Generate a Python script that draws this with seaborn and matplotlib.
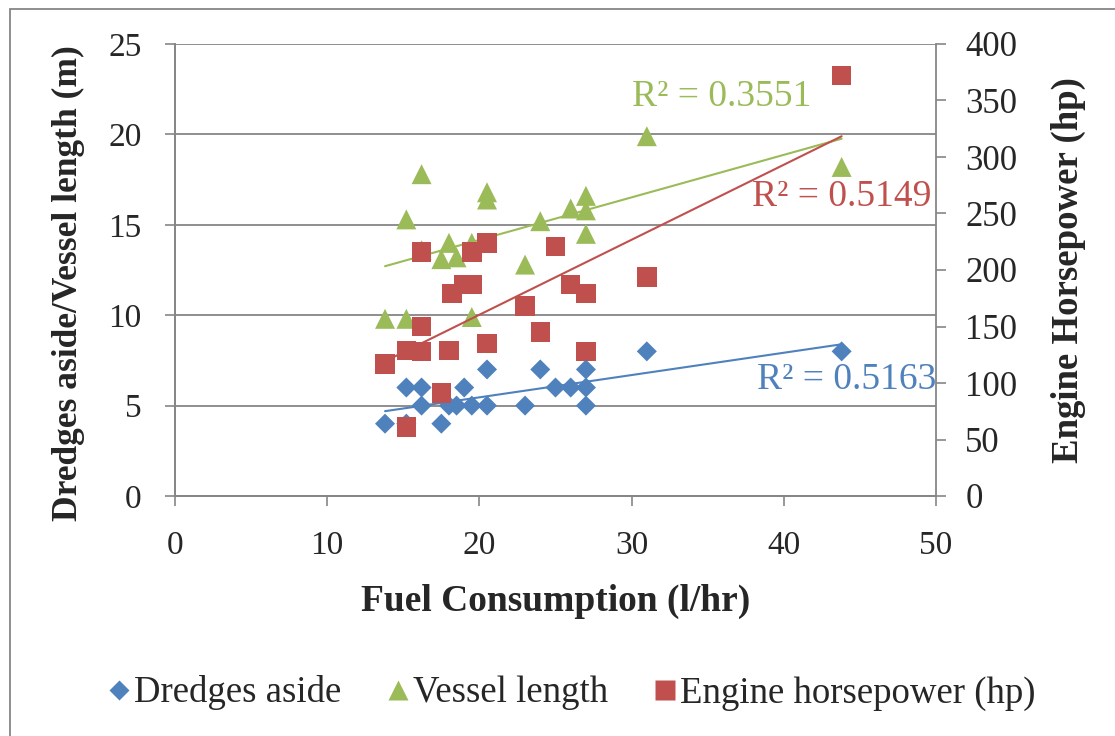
import numpy as np
import pandas as pd
import matplotlib
matplotlib.use("Agg")
import matplotlib.pyplot as plt
from matplotlib.lines import Line2D
from matplotlib.patches import Rectangle
import seaborn as sns

# ==================== data ====================
dredges_x = [13.8, 15.2, 15.2, 16.2, 16.2, 17.5, 18.0, 18.5, 19.0, 19.5, 20.5,
             20.5, 23.0, 24.0, 25.0, 26.0, 27.0, 27.0, 27.0, 31.0, 43.8]
dredges_y = [4, 6, 4, 6, 5, 4, 5, 5, 6, 5, 7, 5, 5, 7, 6, 6, 6, 7, 5, 8, 8]

vessel_x = [13.8, 15.2, 15.2, 16.2, 16.2, 17.5, 18.0, 18.5, 19.5, 19.5,
            20.5, 20.5, 23.0, 24.0, 26.0, 27.0, 27.0, 27.0, 31.0, 43.8]
vessel_y = [9.8, 15.3, 9.8, 17.8, 13.6, 13.1, 14.0, 13.2, 14.0, 9.9,
            16.8, 16.4, 12.8, 15.2, 15.9, 16.6, 15.8, 14.5, 19.9, 18.2]

hp_x = [13.8, 15.2, 15.2, 16.2, 16.2, 16.2, 17.5, 18.0, 18.2, 19.0, 19.5,
        19.5, 20.5, 20.5, 23.0, 24.0, 25.0, 26.0, 27.0, 27.0, 31.0, 43.8]
hp_y = [117, 129, 61, 216, 150, 128, 91, 129, 179, 187, 187,
        216, 224, 135, 168, 145, 221, 187, 179, 128, 194, 372]

r2_labels = ["R² = 0.5163", "R² = 0.3551", "R² = 0.5149"]

dredges = pd.DataFrame({"fuel": dredges_x, "value": dredges_y})
vessel = pd.DataFrame({"fuel": vessel_x, "value": vessel_y})
hp = pd.DataFrame({"fuel": hp_x, "value": hp_y})

BLUE, GREEN, RED = "#4F81BD", "#9BBB59", "#C0504D"
GRAY = "#868686"

# ==================== style ====================
sns.set_style("white")
plt.rcParams["font.family"] = ["Liberation Serif", "DejaVu Serif"]

fig = plt.figure(figsize=(11.15, 7.36), dpi=100)
ax = fig.add_axes([175 / 1115, 1 - 496 / 736, (936 - 175) / 1115, (496 - 44) / 736])
ax2 = ax.twinx()

# -------------------- left axis: dredges + vessel length --------------------
sns.regplot(data=dredges, x="fuel", y="value", ax=ax, scatter=False, ci=None,
            color=BLUE, line_kws={"lw": 1.5})
sns.regplot(data=vessel, x="fuel", y="value", ax=ax, scatter=False, ci=None,
            color=GREEN, line_kws={"lw": 1.5})
sns.scatterplot(data=dredges, x="fuel", y="value", ax=ax, marker="D", s=104,
                color=BLUE, edgecolor="none", zorder=3)
sns.scatterplot(data=vessel, x="fuel", y="value", ax=ax, marker="^", s=207,
                color=GREEN, edgecolor="none", zorder=3)

# -------------------- right axis: engine horsepower --------------------
sns.regplot(data=hp, x="fuel", y="value", ax=ax2, scatter=False, ci=None,
            color=RED, line_kws={"lw": 1.5})
sns.scatterplot(data=hp, x="fuel", y="value", ax=ax2, marker="s", s=196,
                color=RED, edgecolor="none", zorder=3)

ax.set_xlim(0, 50)
ax.set_ylim(0, 25)
ax2.set_ylim(0, 400)
ax.set_xticks(range(0, 51, 10))
ax.set_yticks(range(0, 26, 5))
ax2.set_yticks(range(0, 401, 50))

ax.grid(axis="y", color=GRAY, lw=1.3)
ax.grid(axis="x", visible=False)
ax2.grid(False)
for a in (ax, ax2):
    a.spines["top"].set_visible(False)
    for s in ("left", "bottom", "right"):
        a.spines[s].set_color(GRAY)
        a.spines[s].set_linewidth(1.3)
ax.spines["right"].set_visible(False)

ax.tick_params(axis="both", direction="out", length=7, width=1.2, color=GRAY,
               labelsize=24, left=True, bottom=True)
ax.tick_params(axis="y", pad=17)
ax.tick_params(axis="x", pad=18)
ax2.tick_params(axis="y", direction="out", length=7, width=1.2, color=GRAY,
                labelsize=25, right=True, pad=14)

ax.set_xlabel("Fuel Consumption (l/hr)", fontsize=27, fontweight="bold", labelpad=16)
ax.set_ylabel("Dredges aside/Vessel length (m)", fontsize=25.5, fontweight="bold", labelpad=17)
ax.yaxis.label.set_y(0.47)
ax2.set_ylabel("Engine Horsepower (hp)", fontsize=26.5, fontweight="bold", labelpad=24)

# R² labels
ax.text(44.1, 6.42, r2_labels[0], color=BLUE, fontsize=27, ha="center", va="center")
ax.text(35.9, 22.07, r2_labels[1], color=GREEN, fontsize=27, ha="center", va="center")
ax.text(43.8, 16.54, r2_labels[2], color=RED, fontsize=27, ha="center", va="center")

# legend
handles = [
    Line2D([], [], ls="none", marker="D", ms=10.2, color=BLUE, mec="none"),
    Line2D([], [], ls="none", marker="^", ms=14.4, color=GREEN, mec="none"),
    Line2D([], [], ls="none", marker="s", ms=14, color=RED, mec="none"),
]
fig.legend(handles, ["Dredges aside", "Vessel length", "Engine horsepower (hp)"],
           loc="center", bbox_to_anchor=(571 / 1115, 1 - 693 / 736), ncol=3,
           frameon=False, fontsize=26.5, handletextpad=0.05, columnspacing=1.2,
           handlelength=0.7)

# chart border
fig.add_artist(Rectangle((10 / 1115, -0.1), 2, 1 - 9 / 736 + 0.1,
                         transform=fig.transFigure, fill=False,
                         edgecolor=GRAY, lw=1.3))

plt.savefig("out.png", dpi=100)
